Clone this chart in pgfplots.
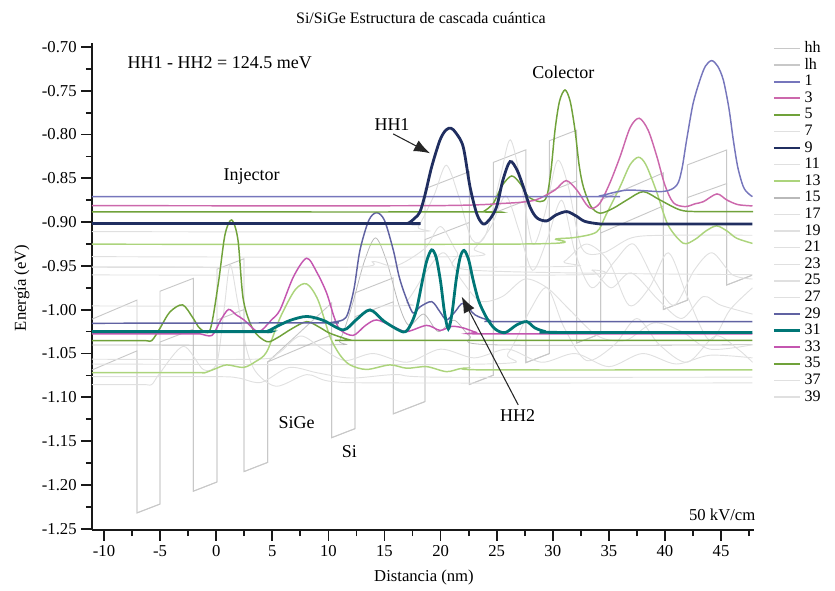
\documentclass[border=0pt]{standalone}
\usepackage{fontspec}
\setmainfont{Liberation Serif}
\usepackage{pgfplots}
\pgfplotsset{compat=1.18}
\usetikzlibrary{arrows.meta}
\definecolor{cBlueA}{RGB}{118,118,188}
\definecolor{cBlueB}{RGB}{96,98,162}
\definecolor{cMagA}{RGB}{204,104,172}
\definecolor{cMagB}{RGB}{196,86,176}
\definecolor{cGreen}{RGB}{112,162,58}
\definecolor{cNavy}{RGB}{32,46,96}
\definecolor{cLight}{RGB}{172,212,124}
\definecolor{cTeal}{RGB}{0,118,118}
\definecolor{cProf}{RGB}{200,200,200}
\definecolor{cWave}{RGB}{224,224,224}
\definecolor{cWaveD}{RGB}{185,185,185}
\begin{document}
\begin{tikzpicture}
\path[use as bounding box] (-69pt,-45pt) rectangle (557.25pt,397.5pt);
\begin{axis}[
  scale only axis, width=496.2pt, height=365.25pt,
  xmin=-11.07, xmax=47.9, ymin=-1.2515, ymax=-0.6955,
  axis lines=left, axis line style={-, line width=1.8pt, black!90},
  clip=false,
  xtick={-10,-5,0,5,10,15,20,25,30,35,40,45},
  minor xtick={-7.5,-2.5,2.5,7.5,12.5,17.5,22.5,27.5,32.5,37.5,42.5,47.5},
  ytick={-1.25,-1.2,-1.15,-1.1,-1.05,-1,-0.95,-0.9,-0.85,-0.8,-0.75,-0.7},
  minor ytick={-1.225,-1.175,-1.125,-1.075,-1.025,-0.975,-0.925,-0.875,-0.825,-0.775,-0.725},
  tick align=outside, major tick length=8pt, minor tick length=4.5pt,
  every tick/.style={line width=1.3pt, black!90},
  /pgf/number format/assume math mode=true,
  yticklabel style={/pgf/number format/.cd, fixed, fixed zerofill, precision=2},
  ticklabel style={font=\fontsize{12.5}{14}\selectfont},
  legend style={at={(1.028,1.003)}, anchor=north west, draw=none, fill=none,
    inner sep=0pt, font=\fontsize{12}{12}\selectfont, row sep=2.45pt,
    nodes={inner ysep=0pt, inner xsep=2pt, text height=8pt, text depth=2pt}},
  legend cell align=left,
  legend image code/.code={\draw[#1] (0pt,0pt) -- (20pt,0pt);},
]
% ---------- band profiles ----------
\addplot[cProf, line width=0.7pt, forget plot] coordinates {
(-11.07,-1.0108) (-7.06,-0.989) (-7.06,-1.232) (-5.01,-1.2219) (-5.01,-0.9789) (-2.04,-0.9642) (-2.04,-1.2072) (0.07,-1.1967) (0.07,-0.9537) (2.48,-0.9418) (2.48,-1.1848) (4.59,-1.1743) (4.59,-1.0596) (10.29,-0.9923) (10.29,-1.1461) (12.37,-1.1358) (12.37,-0.9808) (15.78,-0.9637) (15.78,-1.1189) (18.61,-1.1049) (18.61,-0.8619) (22.56,-0.8424) (22.56,-1.0854) (24.70,-1.0748) (24.70,-0.8318) (27.61,-0.8174) (27.61,-1.0604) (29.69,-1.0501) (29.69,-0.8071) (32.13,-0.795) (32.13,-1.038) (34.27,-1.0274) (34.27,-0.8747) (39.85,-0.8438) (39.85,-0.9998) (41.99,-0.9892) (41.99,-0.8347) (45.50,-0.8176) (45.50,-0.9718) (47.75,-0.9607)};
\addplot[cProf, line width=0.7pt, forget plot] coordinates {
(-11.07,-1.0688) (-7.06,-1.047) (-7.06,-1.232) (-5.01,-1.2219) (-5.01,-1.0369) (-2.04,-1.0222) (-2.04,-1.2072) (0.07,-1.1967) (0.07,-1.0117) (2.48,-0.9998) (2.48,-1.1848) (4.59,-1.1743) (4.59,-1.0596) (10.29,-1.0288) (10.29,-1.1461) (12.37,-1.1358) (12.37,-1.008) (15.78,-0.991) (15.78,-1.1189) (18.61,-1.1049) (18.61,-0.9199) (22.56,-0.9004) (22.56,-1.0854) (24.70,-1.0748) (24.70,-0.8898) (27.61,-0.8754) (27.61,-1.0604) (29.69,-1.0501) (29.69,-0.8651) (32.13,-0.853) (32.13,-1.038) (34.27,-1.0274) (34.27,-0.9124) (39.85,-0.8815) (39.85,-0.9998) (41.99,-0.9892) (41.99,-0.872) (45.50,-0.856) (45.50,-0.9718) (47.75,-0.9607)};
% ---------- gray wavefunctions ----------
\addplot[cWave, line width=0.7pt, smooth, forget plot] coordinates {
(-11.07,-1.0855) (-6.5,-1.0855) (-5.75,-1.0855) (-5.01,-1.0722) (-2.92,-1.0418) (-1.14,-1.0684) (0.05,-1.0608) (0.7,-1.0) (1.24,-0.9489) (1.9,-0.99) (2.72,-1.0456) (3.61,-1.0722) (5.39,-1.0874) (8.07,-1.0741) (10.14,-1.0817) (15.49,-1.0836) (47.8,-1.0836)};
\addplot[cWaveD, line width=0.6pt, smooth, forget plot] coordinates {
(-11.07,-1.0402) (10.0,-1.0402) (11.0,-1.035) (12.0,-1.0) (13.2,-0.945) (14.2,-0.918) (15.2,-0.945) (16.3,-0.995) (17.2,-1.018) (18.5,-1.005) (19.8,-1.025) (21.2,-1.012) (22.6,-1.03) (24.5,-1.04) (47.8,-1.04)};
\addplot[cWave, line width=0.7pt, smooth, forget plot] coordinates {
(-11.07,-0.9108) (17.0,-0.9108) (18.0,-0.905) (19.4,-0.87) (20.5,-0.835) (21.6,-0.87) (22.8,-0.92) (24.0,-0.915) (25.3,-0.85) (26.2,-0.806) (27.1,-0.85) (28.2,-0.925) (29.3,-0.89) (30.4,-0.83) (31.4,-0.86) (32.6,-0.93) (34.5,-0.935) (37.0,-0.918) (40.0,-0.915) (47.8,-0.915)};
\addplot[cWave, line width=0.7pt, smooth, forget plot] coordinates {
(-11.07,-0.9394) (21.5,-0.9394) (23.0,-0.93) (24.5,-0.905) (25.8,-0.87) (27.0,-0.91) (28.2,-0.955) (29.5,-0.92) (30.8,-0.875) (32.0,-0.935) (33.5,-0.975) (35.5,-0.945) (37.2,-0.925) (39.0,-0.965) (40.8,-0.995) (42.6,-0.955) (44.2,-0.935) (46.0,-0.96) (47.8,-0.965)};
\addplot[cWave, line width=0.7pt, smooth, forget plot] coordinates {
(-11.07,-0.951) (29.5,-0.951) (31.0,-0.945) (33.0,-0.925) (35.0,-0.945) (36.8,-0.995) (38.6,-0.975) (40.3,-0.935) (42.0,-0.985) (44.0,-1.035) (45.8,-1.0) (47.8,-0.975)};
\addplot[cWave, line width=0.7pt, smooth, forget plot] coordinates {
(-11.07,-0.9603) (31.5,-0.9603) (33.5,-0.955) (35.2,-0.975) (37.0,-0.958) (39.5,-0.99) (41.5,-1.01) (43.4,-0.985) (45.0,-0.995) (47.8,-1.005)};
\addplot[cWave, line width=0.7pt, smooth, forget plot] coordinates {
(-11.07,-0.9957) (15.5,-0.9957) (17.0,-0.99) (18.8,-0.955) (20.3,-0.935) (21.8,-0.965) (23.5,-0.99) (25.5,-0.985) (27.5,-0.965) (29.5,-0.975) (31.5,-1.0) (34.0,-1.03) (36.5,-1.035) (39.0,-1.015) (41.5,-1.025) (44.0,-1.045) (47.8,-1.04)};
\addplot[cWave, line width=0.7pt, smooth, forget plot] coordinates {
(-11.07,-1.0565) (3.5,-1.0565) (5.5,-1.05) (7.5,-1.03) (9.5,-1.045) (11.5,-1.058) (14.0,-1.05) (17.0,-1.06) (20.0,-1.045) (23.0,-1.055) (26.0,-1.045) (29.0,-1.06) (32.0,-1.05) (35.0,-1.065) (38.0,-1.05) (41.0,-1.062) (44.0,-1.052) (47.8,-1.055)};
\addplot[cWave, line width=0.7pt, smooth, forget plot] coordinates {
(-11.07,-1.0764) (0.0,-1.0764) (2.0,-1.078) (4.0,-1.083) (6.5,-1.066) (9.0,-1.072) (12.0,-1.078) (16.0,-1.074) (20.0,-1.077) (47.8,-1.077)};
\addplot[cWave, line width=0.7pt, smooth, forget plot] coordinates {
(-11.07,-1.062) (24.0,-1.062) (26.0,-1.05) (28.0,-1.0) (29.5,-0.975) (31.0,-1.02) (33.0,-1.058) (35.5,-1.04) (37.5,-1.01) (39.5,-1.04) (42.0,-1.06) (44.5,-1.03) (46.5,-1.045) (47.8,-1.06)};
\addplot[cWave, line width=0.7pt, smooth, forget plot] coordinates {
(-11.07,-0.9515) (12.0,-0.9515) (14.0,-0.945) (16.0,-0.95) (18.6,-0.93) (20.0,-0.905) (21.5,-0.935) (23,-0.955) (47.8,-0.96)};
% ---------- colored wavefunctions ----------
\addplot[cLight, line width=1.1pt, smooth, forget plot] coordinates {
(-11.07,-1.0718) (-1.8,-1.0718) (-1.00,-1.0718) (-0.11,-1.0676) (0.94,-1.0630) (2.42,-1.0659) (3.46,-1.0596) (4.50,-1.0482) (5.69,-1.0094) (7.03,-0.9774) (8.07,-0.9706) (9.07,-0.9888) (10.14,-1.0307) (11.03,-1.0516) (11.93,-1.0630) (13.41,-1.0682) (15.49,-1.0630) (16.98,-1.0668) (18.76,-1.0650) (20.54,-1.0707) (22.02,-1.0668) (24.11,-1.0687) (47.8,-1.0687)};
\addplot[cLight, line width=1.1pt, smooth, forget plot] coordinates {
(-11.07,-0.9252) (27.97,-0.9249) (30.29,-0.9192) (31.98,-0.9175) (33.91,-0.9112) (34.74,-0.8918) (35.99,-0.8598) (36.88,-0.8347) (37.64,-0.8259) (38.31,-0.8347) (39.26,-0.8655) (40.27,-0.9032) (41.63,-0.9241) (42.67,-0.9198) (43.65,-0.9101) (44.60,-0.9043) (45.52,-0.9101) (46.39,-0.9184) (47.8,-0.9243)};
\addplot[cGreen, line width=1.1pt, smooth, forget plot] coordinates {
(-11.07,-1.0353) (-6.5,-1.0353) (-5.75,-1.0353) (-5.01,-1.0211) (-4.12,-1.0025) (-2.99,-0.9945) (-2.07,-1.0094) (-1.44,-1.0215) (-0.55,-1.0231) (0.19,-0.9698) (0.78,-0.9146) (1.38,-0.8975) (1.94,-0.9203) (2.42,-0.9888) (3.31,-1.0231) (4.50,-1.0364) (5.39,-1.0325) (6.7,-1.022) (8.07,-1.0136) (9.2,-1.020) (10.14,-1.0269) (11.93,-1.0345) (13.0,-1.0350) (47.8,-1.0350)};
\addplot[cMagB, line width=1.1pt, smooth, forget plot] coordinates {
(-11.07,-1.0276) (-2.3,-1.0276) (-1.44,-1.0276) (-0.37,-1.0293) (0.4,-1.012) (1.10,-0.9997) (1.8,-1.006) (2.48,-1.0117) (3.55,-1.0242) (4.08,-1.0231) (4.9,-1.012) (5.69,-1.0002) (6.9,-0.962) (8.07,-0.9412) (9.0,-0.958) (9.85,-0.9812) (10.5,-1.008) (11.05,-1.0231) (12.22,-1.0293) (13.3,-1.018) (14.30,-1.0117) (15.78,-1.0193) (16.98,-1.0250) (18.76,-1.0179) (19.95,-1.0236) (21.0,-1.019) (22.02,-1.0208) (23.2,-1.026) (24.11,-1.0276) (47.8,-1.0276)};
\addplot[cBlueB, line width=1.1pt, smooth, forget plot] coordinates {
(-11.07,-1.0155) (9.5,-1.0150) (10.14,-1.0148) (11.30,-1.0116) (11.75,-1.0037) (12.3,-0.975) (12.82,-0.9317) (13.6,-0.898) (14.30,-0.8892) (15.0,-0.898) (15.78,-0.9317) (16.3,-0.962) (16.83,-0.9831) (17.54,-1.0037) (18.16,-0.9968) (19.21,-0.9908) (19.95,-1.0025) (20.54,-1.0117) (21.28,-1.0025) (22.02,-0.9926) (23.07,-1.0059) (24.40,-1.0122) (25.74,-1.0136) (47.8,-1.0136)};
\addplot[cGreen, line width=1.1pt, smooth, forget plot] coordinates {
(-11.07,-0.8884) (23.2,-0.8884) (23.81,-0.8880) (24.70,-0.8784) (25.5,-0.858) (26.34,-0.8473) (27.1,-0.856) (27.82,-0.8709) (28.86,-0.8766) (29.46,-0.8709) (29.85,-0.84) (30.20,-0.7948) (30.6,-0.762) (31.09,-0.7491) (31.55,-0.762) (31.98,-0.7948) (32.35,-0.835) (32.72,-0.8595) (33.4,-0.882) (34.22,-0.8898) (35.40,-0.8841) (36.7,-0.874) (38.07,-0.8652) (39.55,-0.8747) (41.35,-0.8861) (43.0,-0.888) (47.85,-0.8880)};
\addplot[cMagA, line width=1.1pt, smooth, forget plot] coordinates {
(-11.07,-0.8812) (19.0,-0.8812) (25.89,-0.8784) (28.0,-0.876) (28.86,-0.8727) (30.20,-0.8633) (31.19,-0.8526) (32.14,-0.8633) (33.0,-0.8800) (33.5,-0.8845) (34.22,-0.8780) (35.1,-0.855) (36.0,-0.8252) (36.9,-0.792) (37.70,-0.7814) (38.5,-0.795) (39.28,-0.8252) (40.0,-0.858) (40.76,-0.8780) (41.80,-0.8823) (42.7,-0.879) (43.43,-0.8766) (44.63,-0.8678) (45.51,-0.8747) (46.5,-0.880) (47.8,-0.8815)};
\addplot[cBlueA, line width=1.1pt, smooth, forget plot] coordinates {
(-11.07,-0.8709) (33.0,-0.8709) (34.2,-0.8700) (36.6,-0.8635) (39.85,-0.8650) (41.04,-0.8580) (41.5,-0.840) (41.93,-0.8062) (42.5,-0.765) (43.12,-0.7377) (43.6,-0.722) (44.16,-0.7156) (44.7,-0.722) (45.20,-0.7377) (45.7,-0.770) (46.09,-0.8062) (46.5,-0.838) (46.98,-0.8595) (47.4,-0.867) (47.8,-0.8709)};
\addplot[cTeal, line width=2.1pt, smooth, forget plot] coordinates {
(-11.07,-1.0250) (3.7,-1.0250) (4.50,-1.0250) (5.24,-1.0202) (6.58,-1.0122) (8.07,-1.0077) (9.55,-1.0122) (11.33,-1.0231) (12.46,-1.0117) (13.71,-1.0002) (15.04,-1.0139) (16.68,-1.0254) (17.3,-1.018) (17.85,-1.000) (18.3,-0.972) (18.75,-0.945) (19.2,-0.9317) (19.6,-0.940) (20.0,-0.968) (20.35,-1.003) (20.69,-1.022) (21.02,-1.004) (21.4,-0.965) (21.75,-0.940) (22.1,-0.9323) (22.5,-0.943) (22.9,-0.966) (23.4,-0.990) (24.11,-1.0094) (24.85,-1.0219) (25.74,-1.0262) (26.78,-1.0174) (27.67,-1.0136) (28.41,-1.0208) (29.30,-1.0248) (30.35,-1.0259) (47.8,-1.0259)};
\addplot[cNavy, line width=2.1pt, smooth, forget plot] coordinates {
(-11.07,-0.9015) (16.3,-0.9015) (17.09,-0.9013) (17.72,-0.8952) (18.16,-0.8884) (18.61,-0.8690) (19.21,-0.8367) (19.95,-0.8062) (20.48,-0.7948) (20.93,-0.7928) (21.37,-0.7982) (22.02,-0.8142) (22.62,-0.8595) (23.24,-0.8910) (23.81,-0.9022) (24.40,-0.8965) (25.00,-0.8823) (25.56,-0.8518) (26.19,-0.8309) (26.81,-0.8404) (27.37,-0.8595) (27.97,-0.8827) (28.59,-0.8952) (29.46,-0.8986) (30.29,-0.8918) (31.24,-0.8880) (32.07,-0.8929) (32.87,-0.8992) (34.22,-0.9021) (35.5,-0.9021) (47.8,-0.9021)};
% ---------- legend ----------
\addlegendimage{cProf, line width=0.9pt}\addlegendentry{hh}
\addlegendimage{cProf, line width=0.9pt}\addlegendentry{lh}
\addlegendimage{cBlueA, line width=1.4pt}\addlegendentry{1}
\addlegendimage{cMagA, line width=1.4pt}\addlegendentry{3}
\addlegendimage{cGreen, line width=1.4pt}\addlegendentry{5}
\addlegendimage{cWave, line width=1pt}\addlegendentry{7}
\addlegendimage{cNavy, line width=2.1pt}\addlegendentry{9}
\addlegendimage{cWave, line width=1pt}\addlegendentry{11}
\addlegendimage{cLight, line width=1.4pt}\addlegendentry{13}
\addlegendimage{cWaveD, line width=1pt}\addlegendentry{15}
\addlegendimage{cWave, line width=1pt}\addlegendentry{17}
\addlegendimage{cWave, line width=1pt}\addlegendentry{19}
\addlegendimage{cWave, line width=1pt}\addlegendentry{21}
\addlegendimage{cWave, line width=1pt}\addlegendentry{23}
\addlegendimage{cWave, line width=1pt}\addlegendentry{25}
\addlegendimage{cWave, line width=1pt}\addlegendentry{27}
\addlegendimage{cBlueB, line width=1.4pt}\addlegendentry{29}
\addlegendimage{cTeal, line width=2.1pt}\addlegendentry{31}
\addlegendimage{cMagB, line width=1.4pt}\addlegendentry{33}
\addlegendimage{cGreen, line width=1.4pt}\addlegendentry{35}
\addlegendimage{cWave, line width=1pt}\addlegendentry{37}
\addlegendimage{cWave, line width=1pt}\addlegendentry{39}
% ---------- annotations ----------
\node[font=\fontsize{12}{14}\selectfont] at (axis cs:18.25,-0.6669) {Si/SiGe Estructura de cascada cuántica};
\node[font=\fontsize{12.5}{14}\selectfont] at (axis cs:18.52,-1.3062) {Distancia (nm)};
\node[font=\fontsize{12.5}{14}\selectfont, rotate=90] at (axis cs:-17.31,-0.9751) {Energía (eV)};
\node[font=\fontsize{13.5}{15}\selectfont, anchor=west] at (axis cs:-8.31,-0.7183) {HH1 - HH2 = 124.5 meV};
\node[font=\fontsize{13.5}{15}\selectfont] at (axis cs:15.67,-0.7882) {HH1};
\node[font=\fontsize{13.5}{15}\selectfont] at (axis cs:26.87,-1.1209) {HH2};
\node[font=\fontsize{13.5}{15}\selectfont] at (axis cs:3.16,-0.8473) {Injector};
\node[font=\fontsize{13.5}{15}\selectfont] at (axis cs:30.94,-0.7293) {Colector};
\node[font=\fontsize{13.5}{15}\selectfont] at (axis cs:7.17,-1.1289) {SiGe};
\node[font=\fontsize{13.5}{15}\selectfont] at (axis cs:11.86,-1.1620) {Si};
\node[font=\fontsize{12.5}{14}\selectfont, anchor=east] at (axis cs:48.47,-1.2343) {50 kV/cm};
\draw[-{Latex[length=12pt,width=9pt]}, line width=0.8pt, black!85] (axis cs:15.78,-0.7993) -- (axis cs:19.06,-0.8214);
\draw[-{Latex[length=12pt,width=9pt]}, line width=0.8pt, black!85] (axis cs:26.92,-1.1087) -- (axis cs:21.88,-0.9851);
\end{axis}
\end{tikzpicture}
\end{document}
